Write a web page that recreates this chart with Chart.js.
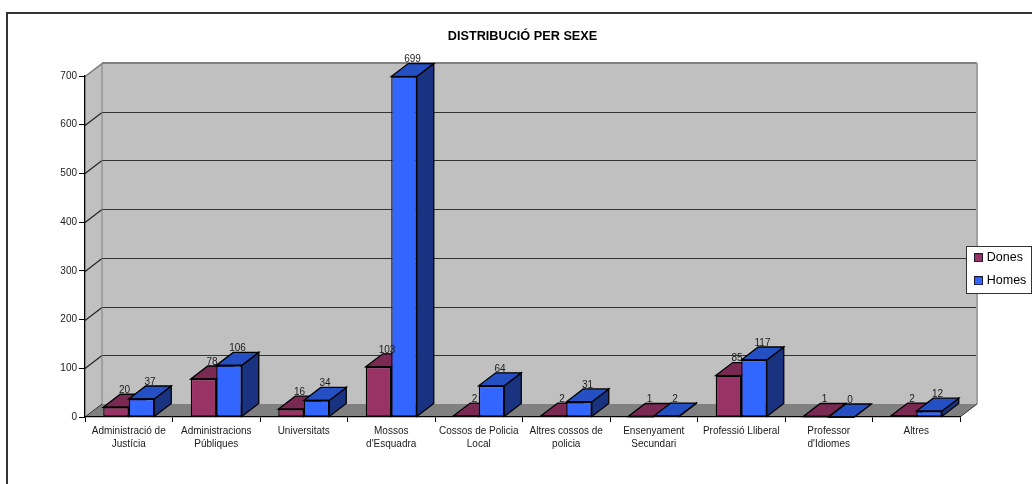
<!DOCTYPE html>
<html>
<head>
<meta charset="utf-8">
<script src="https://cdn.jsdelivr.net/npm/chart.js@4"></script>
<style>
  html, body { margin: 0; padding: 0; background: #fff; }
  canvas { display: block; }
</style>
</head>
<body>
<canvas id="barChart" width="1032" height="484"></canvas>
<script>
const categories = [
  ["Administració de", "Justícia"],
  ["Administracions", "Públiques"],
  "Universitats",
  ["Mossos", "d'Esquadra"],
  ["Cossos de Policia", "Local"],
  ["Altres cossos de", "policia"],
  ["Ensenyament", "Secundari"],
  "Professió Lliberal",
  ["Professor", "d'Idiomes"],
  "Altres",
];
const dones = [20, 78, 16, 103, 2, 2, 1, 85, 1, 2];
const homes = [37, 106, 34, 699, 64, 31, 2, 117, 0, 12];

const depthX = 17;
const depthY = 13;
const fontName = '"Liberation Sans", Arial, sans-serif';
const textColor = "#1a1a1a";

// cares de les barres: frontal, superior, lateral
const colorsDones = { front: "#993366", top: "#7a2952", side: "#4d1a33" };
const colorsHomes = { front: "#3366ff", top: "#2450c4", side: "#1a3380" };

function swatch(color) {
  const c = document.createElement("canvas");
  c.width = 9;
  c.height = 9;
  const g = c.getContext("2d");
  g.fillStyle = color;
  g.fillRect(0, 0, 9, 9);
  g.strokeStyle = "#1a1a33";
  g.strokeRect(0.5, 0.5, 8, 8);
  return c;
}

function poly(ctx, pts, fill, stroke) {
  ctx.beginPath();
  pts.forEach((p, i) => (i ? ctx.lineTo(p[0], p[1]) : ctx.moveTo(p[0], p[1])));
  ctx.closePath();
  if (fill) {
    ctx.fillStyle = fill;
    ctx.fill();
  }
  if (stroke) {
    ctx.strokeStyle = stroke;
    ctx.lineWidth = 1.3;
    ctx.stroke();
  }
}

function line(ctx, x1, y1, x2, y2, color, width) {
  ctx.beginPath();
  ctx.moveTo(x1, y1);
  ctx.lineTo(x2, y2);
  ctx.strokeStyle = color;
  ctx.lineWidth = width || 1;
  ctx.stroke();
}

const scene3d = {
  id: "scene3d",
  afterLayout(chart) {
    // llegenda sobre la paret del fons
    const l = chart.legend;
    l.left = 966;
    l.right = 1032;
    l.top = 241;
    l.bottom = 300;
  },
  beforeDraw(chart) {
    const ctx = chart.ctx;
    const { left, right, top, bottom } = chart.chartArea;
    ctx.save();

    // marc exterior
    line(ctx, 7, 13, 1032, 13, "#333333", 2);
    line(ctx, 7, 12, 7, 484, "#333333", 2);

    // parets i terra
    const dx = depthX;
    const dy = depthY;
    poly(ctx, [[left + dx, top - dy], [right + dx, top - dy], [right + dx, bottom - dy], [left + dx, bottom - dy]], "#c0c0c0");
    poly(ctx, [[left, top], [left + dx, top - dy], [left + dx, bottom - dy], [left, bottom]], "#c0c0c0");
    poly(ctx, [[left, bottom], [left + dx, bottom - dy], [right + dx, bottom - dy], [right, bottom]], "#808080");

    // línies de la graella
    const yScale = chart.scales.y;
    yScale.ticks.forEach((t) => {
      const y = Math.round(yScale.getPixelForValue(t.value)) + 0.5;
      if (t.value === 0 || t.value === yScale.max) return;
      line(ctx, left, y, left + dx, y - dy, "#222222", 1.2);
      line(ctx, left + dx, y - dy, right + dx, y - dy, "#333333", 1.2);
    });
    line(ctx, left, top + 0.5, left + dx, top - dy + 0.5, "#808080", 1.5);
    line(ctx, left + dx, top - dy, right + dx, top - dy, "#808080", 2);
    line(ctx, right + dx, top - dy, right + dx, bottom - dy, "#a0a0a0", 2);
    line(ctx, left + dx, top - dy, left + dx, bottom - dy, "#808080");
    line(ctx, left, bottom, left + dx, bottom - dy, "#333333");
    line(ctx, right, bottom, right + dx, bottom - dy, "#333333");

    // requadre de la llegenda
    ctx.fillStyle = "#ffffff";
    ctx.fillRect(966.5, 246.5, 65, 47);
    ctx.strokeStyle = "#333333";
    ctx.lineWidth = 1;
    ctx.strokeRect(966.5, 246.5, 65, 47);
    ctx.restore();
  },
  beforeDatasetsDraw(chart) {
    const ctx = chart.ctx;
    const sets = [colorsDones, colorsHomes];
    ctx.save();
    sets.forEach((colors, i) => {
      chart.getDatasetMeta(i).data.forEach((bar) => {
        const x1 = bar.x - bar.width / 2;
        const x2 = bar.x + bar.width / 2;
        const yt = bar.y;
        const yb = bar.base;
        poly(ctx, [[x2, yt], [x2 + depthX, yt - depthY], [x2 + depthX, yb - depthY], [x2, yb]], colors.side, "#000000");
        poly(ctx, [[x1, yt], [x1 + depthX, yt - depthY], [x2 + depthX, yt - depthY], [x2, yt]], colors.top, "#000000");
      });
    });
    ctx.restore();
  },
  afterDatasetsDraw(chart) {
    const ctx = chart.ctx;
    ctx.save();
    ctx.font = "10px " + fontName;
    ctx.fillStyle = textColor;
    ctx.textAlign = "center";
    ctx.textBaseline = "middle";
    chart.data.datasets.forEach((ds, i) => {
      chart.getDatasetMeta(i).data.forEach((bar, j) => {
        // línia frontal per a les barres planes
        line(ctx, bar.x - bar.width / 2, bar.y, bar.x + bar.width / 2, bar.y, "#000000", 1.3);
        ctx.fillText(String(ds.data[j]), bar.x + depthX / 2, bar.y - depthY - 4);
      });
    });
    ctx.restore();
  },
};

new Chart(document.getElementById("barChart"), {
  type: "bar",
  data: {
    labels: categories,
    datasets: [
      { label: "Dones", data: dones, backgroundColor: colorsDones.front },
      { label: "Homes", data: homes, backgroundColor: colorsHomes.front },
    ],
  },
  plugins: [scene3d],
  options: {
    responsive: false,
    animation: false,
    layout: { padding: { left: 0, right: 72, top: 0, bottom: 0 } },
    datasets: {
      bar: {
        categoryPercentage: 0.583,
        barPercentage: 1,
        borderColor: "#000000",
        borderWidth: 1.3,
        borderSkipped: false,
      },
    },
    scales: {
      x: {
        afterFit: (s) => { s.height = 67; },
        grid: { drawOnChartArea: false, tickLength: 5, color: "#000000", offset: true },
        border: { color: "#000000", width: 1.3 },
        ticks: {
          autoSkip: false,
          maxRotation: 0,
          minRotation: 0,
          padding: 3,
          color: textColor,
          font: { family: fontName, size: 10, lineHeight: 1.3 },
        },
      },
      y: {
        min: 0,
        max: 700,
        afterFit: (s) => { s.width = 85; },
        grid: { drawOnChartArea: false, tickLength: 6, color: "#000000" },
        border: { color: "#000000", width: 1.3 },
        ticks: {
          stepSize: 100,
          padding: 2,
          color: textColor,
          font: { family: fontName, size: 10 },
        },
      },
    },
    plugins: {
      tooltip: { enabled: false },
      title: {
        display: true,
        text: "DISTRIBUCIÓ PER SEXE",
        fullSize: false,
        color: "#000000",
        font: { family: fontName, size: 12.7, weight: "bold", lineHeight: 1.2 },
        padding: { top: 29, bottom: 31.8 },
      },
      legend: {
        position: "chartArea",
        align: "start",
        labels: {
          boxWidth: 4,
          boxHeight: 9,
          padding: 10.5,
          usePointStyle: true,
          color: "#000000",
          font: { family: fontName, size: 12.5 },
          generateLabels: (chart) =>
            chart.data.datasets.map((ds, i) => ({
              text: ds.label,
              datasetIndex: i,
              pointStyle: swatch(ds.backgroundColor),
              fontColor: "#000000",
            })),
        },
      },
    },
  },
});
</script>
</body>
</html>
